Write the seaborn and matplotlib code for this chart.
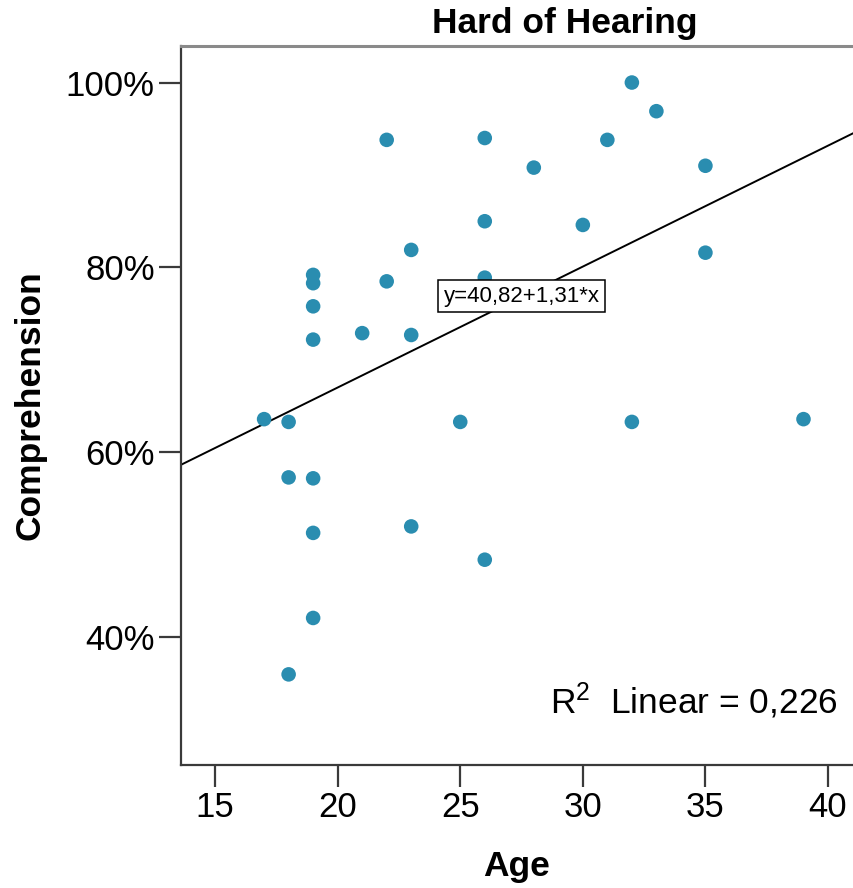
import matplotlib
matplotlib.use("Agg")
import matplotlib.pyplot as plt
import seaborn as sns
import pandas as pd

# ---- data ----
age = [22, 26, 26, 23, 19, 19, 22, 26, 19, 19, 21, 23,
       32, 33, 31, 28, 35, 30, 35,
       17, 18, 25, 18, 19, 19, 23, 26, 19, 18, 32, 39]
comprehension = [93.8, 94.0, 85.0, 81.9, 79.2, 78.3, 78.5, 78.9, 75.8, 72.2, 72.9, 72.7,
                 100.0, 96.9, 93.8, 90.8, 91.0, 84.6, 81.6,
                 63.6, 63.3, 63.3, 57.3, 57.2, 51.3, 52.0, 48.4, 42.1, 36.0, 63.3, 63.6]
x_ticks = [15, 20, 25, 30, 35, 40]
y_ticks = [40, 60, 80, 100]
y_tick_labels = ["40%", "60%", "80%", "100%"]
title = "Hard of Hearing"
x_label = "Age"
y_label = "Comprehension"
equation_label = "y=40,82+1,31*x"
r2_label = r"R$^{2}$  Linear = 0,226"

df = pd.DataFrame({"Age": age, "Comprehension": comprehension})

sns.set_theme(style="white")
plt.rcParams["font.family"] = ["Liberation Sans", "DejaVu Sans"]
plt.rcParams["mathtext.fontset"] = "custom"
plt.rcParams["mathtext.rm"] = "Liberation Sans"
plt.rcParams["mathtext.it"] = "Liberation Sans"
plt.rcParams["text.color"] = "black"
plt.rcParams["axes.labelcolor"] = "black"
plt.rcParams["xtick.color"] = "black"
plt.rcParams["ytick.color"] = "black"

W, H = 854, 888
fig = plt.figure(figsize=(W / 100, H / 100), dpi=100)
fig.patch.set_facecolor("white")
ax_left, ax_right, ax_top, ax_bottom = 180.5, 854, 46, 765
ax = fig.add_axes([ax_left / W, 1 - ax_bottom / H, (ax_right - ax_left) / W, (ax_bottom - ax_top) / H])

ax.set_xlim(13.59, 41.06)
ax.set_ylim(26.2, 103.95)

point_color = "#2a8db0"
sns.regplot(data=df, x="Age", y="Comprehension", ax=ax, ci=None, truncate=False,
            scatter_kws=dict(s=110, color=point_color, edgecolor="none", alpha=1, zorder=3),
            line_kws=dict(color="black", lw=1.4, zorder=2))

ax.set_xlim(13.59, 41.06)
ax.set_ylim(26.2, 103.95)
ax.set_xticks(x_ticks)
ax.set_xticklabels([str(t) for t in x_ticks])
ax.set_yticks(y_ticks)
ax.set_yticklabels(y_tick_labels)
ax.set_xlabel("")
ax.set_ylabel("")

for side in ["left", "bottom"]:
    ax.spines[side].set_color("#3a3a3a")
    ax.spines[side].set_linewidth(1.6)
ax.spines["top"].set_color("#8a8a8a")
ax.spines["top"].set_linewidth(2.2)
ax.spines["right"].set_visible(False)

ax.tick_params(axis="both", direction="out", length=16, width=1.6, color="#3a3a3a",
               labelsize=25, labelcolor="black", pad=2.5)
ax.tick_params(axis="x", bottom=True, top=False)
ax.tick_params(axis="y", left=True, right=False)

ax.text(27.51, 76.89, equation_label, ha="center", va="center", fontsize=16, color="black",
        bbox=dict(boxstyle="square,pad=0.25", facecolor="white", edgecolor="black", lw=1.1),
        zorder=5)
ax.text(40.38, 33.1, r2_label, ha="right", va="center", fontsize=25.5, color="black", zorder=5)

fig.text(565 / W, 1 - 24 / H, title, ha="center", va="center", fontsize=25.5,
         fontweight="bold", color="black")
fig.text(517 / W, 1 - 866 / H, x_label, ha="center", va="center", fontsize=25.5,
         fontweight="bold", color="black")
fig.text(30 / W, 1 - 405.5 / H, y_label, ha="center", va="center", rotation=90,
         fontsize=25.5, fontweight="bold", color="black")

fig.savefig("out.png", dpi=100, facecolor="white")
